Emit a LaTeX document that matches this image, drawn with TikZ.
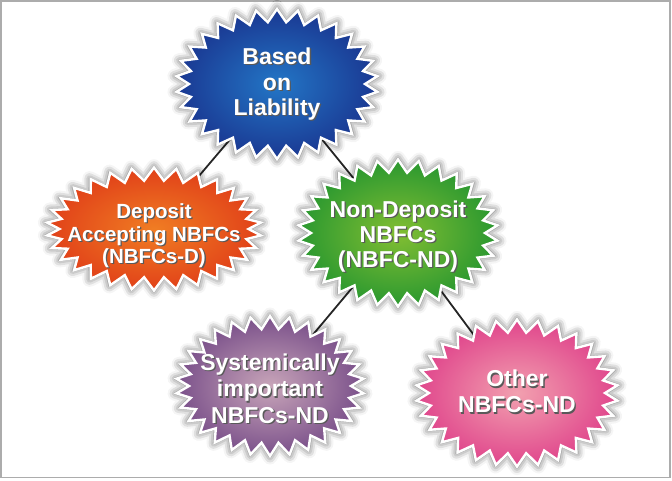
\documentclass[tikz,border=0pt]{standalone}
\usepackage{fontspec}
\setmainfont{Liberation Sans}
\usetikzlibrary{shapes.symbols,shadows.blur,backgrounds}
\newcommand\shd[1]{\leavevmode\rlap{\hspace{1.3pt}\raisebox{-1.3pt}{\textcolor{black!65}{#1}}}#1}
\newcommand\blines[2][0pt]{\makebox[0pt]{\smash{\raisebox{\dimexpr-5.75pt-#1\relax}{\begin{tabular}{@{}c@{}}#2\end{tabular}}}}}
\tikzset{
  burst/.style={starburst, starburst points=30, starburst point height=13pt,
    random starburst=0, draw=white, line width=2.4pt, inner sep=0pt,
    text=white, font=\bfseries\fontsize{23}{25.5}\selectfont,
    blur shadow={shadow xshift=0pt, shadow yshift=0pt, shadow blur radius=7pt, shadow opacity=65, shadow scale=1.02}},
  link/.style={line width=1.8pt, black!85}
}
\begin{document}
\begin{tikzpicture}[x=1pt,y=-1pt]
\useasboundingbox (0,0) rectangle (672,480);
\draw[gray!65, line width=1.6pt] (0.8,0.8) rectangle (670,477.6);
\node[burst, minimum width=202pt, minimum height=150pt, inner color={rgb,255:red,35;green,118;blue,198}, outer color={rgb,255:red,26;green,56;blue,146}] (liab) at (277,84) {\blines[1.5pt]{\shd{Based}\\\shd{on}\\\shd{Liability}}};
\node[burst, minimum width=215pt, minimum height=123pt, inner color={rgb,255:red,240;green,125;blue,35}, outer color={rgb,255:red,225;green,65;blue,25}, font=\bfseries\fontsize{20.5}{22.5}\selectfont] (dep) at (154,229) {\blines[7pt]{\shd{Deposit}\\\shd{Accepting NBFCs}\\\shd{(NBFCs-D)}}};
\node[burst, minimum width=200pt, minimum height=147pt, inner color={rgb,255:red,130;green,190;blue,50}, outer color={rgb,255:red,42;green,152;blue,48}, font=\bfseries\fontsize{23}{25}\selectfont] (nd) at (398,233) {\blines[5pt]{\shd{Non-Deposit}\\\shd{NBFCs}\\\shd{(NBFC-ND)}}};
\node[burst, minimum width=188pt, minimum height=140pt, inner color={rgb,255:red,200;green,165;blue,185}, outer color={rgb,255:red,122;green,80;blue,138}, font=\bfseries\fontsize{23}{26.5}\selectfont] (sys) at (270,386) {\blines[6pt]{\shd{Systemically}\\\shd{important}\\\shd{NBFCs-ND}}};
\node[burst, minimum width=202pt, minimum height=147pt, inner color={rgb,255:red,242;green,160;blue,175}, outer color={rgb,255:red,224;green,70;blue,140}, font=\bfseries\fontsize{23}{26}\selectfont] (oth) at (517,393) {\blines[2pt]{\shd{Other}\\\shd{NBFCs-ND}}};
\begin{pgfonlayer}{background}
\draw[link] (liab.center) -- (dep.center);
\draw[link] (liab.center) -- (nd.center);
\draw[link] (nd.center) -- (sys.center);
\draw[link] (nd.center) -- (oth.center);
\end{pgfonlayer}
\end{tikzpicture}
\end{document}
